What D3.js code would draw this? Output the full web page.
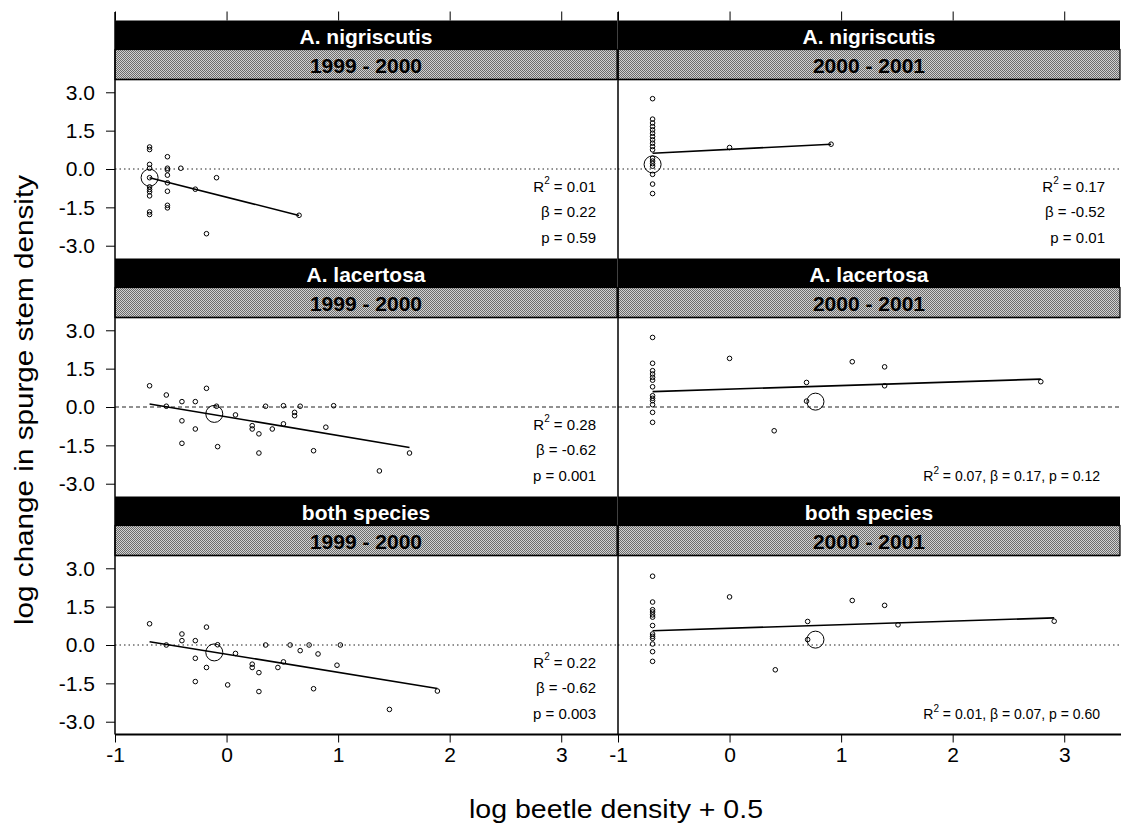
<!DOCTYPE html>
<html>
<head>
<meta charset="utf-8">
<script src="https://cdn.jsdelivr.net/npm/d3@7"></script>
<style>
  body { margin: 0; background: #fff; }
  svg { display: block; }
  text { font-family: "Liberation Sans", Arial, Helvetica, sans-serif; }
</style>
</head>
<body>
<svg id="chart" width="1121" height="823"></svg>
<script>
// ---- Panel labels ----
const speciesLabels = ["A. nigriscutis", "A. lacertosa", "both species"];
const periodLabels = ["1999 - 2000", "2000 - 2001"];
const xTickValues = [-1, 0, 1, 2, 3];
const yTickValues = [3.0, 1.5, 0.0, -1.5, -3.0];
const xDomain = [-1, 3.5];
const yDomain = [-3.5, 3.5];

// ---- A. nigriscutis, 1999-2000 ----
const nig9900X = [-0.69, -0.69, -0.69, -0.69, -0.69, -0.69, -0.69, -0.69, -0.69, -0.69, -0.69,
                  -0.53, -0.53, -0.53, -0.53, -0.53, -0.53, -0.53, -0.53,
                  -0.41, -0.28, -0.18, -0.09, 0.65];
const nig9900Y = [0.86, 0.76, 0.18, 0.03, -0.34, -0.70, -0.80, -0.89, -1.05, -1.68, -1.78,
                  0.48, 0.03, -0.04, -0.24, -0.54, -0.87, -1.42, -1.52,
                  0.03, -0.79, -2.53, -0.34, -1.81];

// ---- A. nigriscutis, 2000-2001 ----
const nig0001X = [-0.69, -0.69, -0.69, -0.69, -0.69, -0.69, -0.69, -0.69, -0.69, -0.69, -0.69,
                  -0.69, -0.69, -0.69, -0.69, -0.69, -0.69, -0.69, 0.00, 0.91];
const nig0001Y = [2.75, 1.95, 1.80, 1.66, 1.53, 1.40, 1.27, 1.14, 1.01, 0.88, 0.75,
                  0.42, 0.31, 0.21, 0.11, -0.21, -0.59, -0.96, 0.84, 0.97];

// ---- A. lacertosa, 1999-2000 ----
const lac9900X = [-0.69, -0.54, -0.54, -0.40, -0.28, -0.18, -0.09, -0.40, -0.28, -0.40, -0.08,
                  0.08, 0.23, 0.23, 0.29, 0.29, 0.35, 0.41, 0.51, 0.51, 0.61, 0.61, 0.66,
                  0.89, 0.78, 0.96, 1.37, 1.64];
const lac9900Y = [0.83, 0.47, 0.03, 0.21, 0.21, 0.73, 0.03, -0.54, -0.86, -1.42, -1.55,
                  -0.31, -0.73, -0.86, -1.05, -1.80, 0.03, -0.86, 0.05, -0.66, -0.21, -0.34, 0.03,
                  -0.79, -1.71, 0.05, -2.50, -1.80];

// ---- A. lacertosa, 2000-2001 ----
const lac0001X = [-0.69, -0.69, -0.69, -0.69, -0.69, -0.69, -0.69, -0.69, -0.69, -0.69, -0.69, -0.69, -0.69,
                  0.00, 0.40, 0.69, 0.69, 1.10, 1.39, 1.39, 2.79];
const lac0001Y = [2.72, 1.71, 1.42, 1.29, 1.16, 1.05, 0.79, 0.44, 0.34, 0.25, 0.09, -0.21, -0.60,
                  1.90, -0.93, 0.96, 0.23, 1.77, 1.57, 0.83, 0.99];

// ---- Both species, 1999-2000 ----
const both9900X = [-0.69, -0.54, -0.40, -0.40, -0.28, -0.18, -0.08, -0.28, -0.18, -0.28, 0.01,
                   0.08, 0.23, 0.23, 0.29, 0.29, 0.35, 0.46, 0.51, 0.57, 0.66, 0.74, 0.82,
                   0.78, 0.99, 1.02, 1.46, 1.89];
const both9900Y = [0.83, 0.00, 0.43, 0.17, 0.17, 0.70, 0.01, -0.52, -0.88, -1.43, -1.56,
                   -0.33, -0.75, -0.88, -1.08, -1.82, 0.00, -0.88, -0.66, 0.00, -0.22, 0.00, -0.35,
                   -1.71, -0.79, 0.00, -2.52, -1.80];

// ---- Both species, 2000-2001 ----
const both0001X = [-0.69, -0.69, -0.69, -0.69, -0.69, -0.69, -0.69, -0.69, -0.69, -0.69, -0.69, -0.69, -0.69,
                   0.00, 0.41, 0.70, 0.70, 1.10, 1.39, 1.51, 2.91];
const both0001Y = [2.69, 1.68, 1.38, 1.29, 1.18, 1.09, 0.76, 0.43, 0.34, 0.26, 0.04, -0.26, -0.64,
                   1.88, -0.97, 0.92, 0.21, 1.74, 1.55, 0.79, 0.93];

// ---- Group means (large circles), fitted lines and statistics, in panel order ----
const meanX = [-0.69, -0.69, -0.11, 0.77, -0.11, 0.77];
const meanY = [-0.34, 0.18, -0.27, 0.21, -0.29, 0.21];
const fitIntercept = [-1.10, 0.77, -0.384, 0.697, -0.359, 0.656];
const fitSlope = [-1.10, 0.219, -0.730, 0.141, -0.709, 0.139];
const statR2 = ["0.01", "0.17", "0.28", "0.07", "0.22", "0.01"];
const statBeta = ["0.22", "-0.52", "-0.62", "0.17", "-0.62", "0.07"];
const statP = ["0.59", "0.01", "0.001", "0.12", "0.003", "0.60"];
const statInline = [false, false, false, true, false, true];
const zeroLineDash = ["1.5,3", "1.5,3", "4,3", "4,3", "1.5,3", "1.5,3"];

const panelX = [nig9900X, nig0001X, lac9900X, lac0001X, both9900X, both0001X];
const panelY = [nig9900Y, nig0001Y, lac9900Y, lac0001Y, both9900Y, both0001Y];

// ---- Layout ----
const colLeft = [115, 618];
const panelW = 502;
const rowTop0 = 20.5, rowH = 238, blackH = 29, grayH = 30, plotH = 179;
const bottomY = rowTop0 + 3 * rowH;
const FONT = "'Liberation Sans', Arial, sans-serif";

const svg = d3.select("#chart");
const defs = svg.append("defs");
const pat = defs.append("pattern").attr("id", "halftone")
  .attr("width", 2).attr("height", 2).attr("patternUnits", "userSpaceOnUse");
pat.append("rect").attr("width", 2).attr("height", 2).attr("fill", "#d2d2d2");
pat.append("rect").attr("width", 1).attr("height", 1).attr("fill", "#6c6c6c");
pat.append("rect").attr("x", 1).attr("y", 1).attr("width", 1).attr("height", 1).attr("fill", "#6c6c6c");

const xScales = colLeft.map(l => d3.scaleLinear().domain(xDomain).range([l, l + panelW]));

for (let r = 0; r < 3; r++) {
  for (let c = 0; c < 2; c++) {
    const i = r * 2 + c;
    const top = rowTop0 + r * rowH;
    const left = colLeft[c];
    const plotTop = top + blackH + grayH;
    const x = xScales[c];
    const y = d3.scaleLinear().domain(yDomain).range([plotTop + plotH, plotTop]);
    const g = svg.append("g");

    // strips
    g.append("rect").attr("x", left).attr("y", top).attr("width", panelW).attr("height", blackH)
      .attr("fill", "#000");
    g.append("rect").attr("x", left).attr("y", top + blackH).attr("width", panelW).attr("height", grayH)
      .attr("fill", "url(#halftone)").attr("stroke", "#000").attr("stroke-width", 1.2);
    g.append("text").attr("x", left + panelW / 2).attr("y", top + blackH / 2 + 1)
      .attr("text-anchor", "middle").attr("dominant-baseline", "central")
      .attr("fill", "#fff").attr("font-weight", "bold").attr("font-size", 21)
      .text(speciesLabels[r]);
    g.append("text").attr("x", left + panelW / 2).attr("y", top + blackH + grayH / 2 + 1)
      .attr("text-anchor", "middle").attr("dominant-baseline", "central")
      .attr("fill", "#000").attr("font-weight", "bold").attr("font-size", 21)
      .text(periodLabels[c]);

    // zero reference line
    g.append("line").attr("x1", left).attr("x2", left + panelW)
      .attr("y1", y(0)).attr("y2", y(0))
      .attr("stroke", "#222").attr("stroke-width", 1)
      .attr("stroke-dasharray", zeroLineDash[i]);

    // fitted line over the observed x range
    const xs = panelX[i], ys = panelY[i];
    const [xmin, xmax] = d3.extent(xs);
    g.append("line")
      .attr("x1", x(xmin)).attr("y1", y(fitIntercept[i] + fitSlope[i] * xmin))
      .attr("x2", x(xmax)).attr("y2", y(fitIntercept[i] + fitSlope[i] * xmax))
      .attr("stroke", "#000").attr("stroke-width", 1.6);

    // observations
    g.selectAll("circle.obs").data(d3.range(xs.length)).join("circle")
      .attr("class", "obs")
      .attr("cx", k => x(xs[k])).attr("cy", k => y(ys[k]))
      .attr("r", 2.3).attr("fill", "none").attr("stroke", "#000").attr("stroke-width", 1);

    // mean
    g.append("circle").attr("cx", x(meanX[i])).attr("cy", y(meanY[i]))
      .attr("r", 8.5).attr("fill", "none").attr("stroke", "#000").attr("stroke-width", 1);

    // statistics
    if (statInline[i]) {
      const t = g.append("text").attr("x", left + panelW - 20).attr("y", plotTop + 158)
        .attr("text-anchor", "end").attr("dominant-baseline", "central").attr("font-size", 14);
      t.append("tspan").text("R");
      t.append("tspan").attr("dy", -6).attr("font-size", 10).text("2");
      t.append("tspan").attr("dy", 6).text(` = ${statR2[i]}, \u03B2 = ${statBeta[i]}, p = ${statP[i]}`);
    } else {
      const sx = c === 0 ? left + panelW - 21 : left + panelW - 15;
      const t1 = g.append("text").attr("x", sx).attr("y", plotTop + 106)
        .attr("text-anchor", "end").attr("dominant-baseline", "central").attr("font-size", 15);
      t1.append("tspan").text("R");
      t1.append("tspan").attr("dy", -6).attr("font-size", 10).text("2");
      t1.append("tspan").attr("dy", 6).text(` = ${statR2[i]}`);
      g.append("text").attr("x", sx).attr("y", plotTop + 132)
        .attr("text-anchor", "end").attr("dominant-baseline", "central").attr("font-size", 15)
        .text(`\u03B2 = ${statBeta[i]}`);
      g.append("text").attr("x", sx).attr("y", plotTop + 158)
        .attr("text-anchor", "end").attr("dominant-baseline", "central").attr("font-size", 15)
        .text(`p = ${statP[i]}`);
    }

    // horizontal border at top of plot area
    g.append("line").attr("x1", left).attr("x2", left + panelW)
      .attr("y1", plotTop).attr("y2", plotTop).attr("stroke", "#000").attr("stroke-width", 1.5);

    // left y axis
    if (c === 0) {
      const yAxis = d3.axisLeft(y).tickValues(yTickValues).tickSize(9).tickPadding(11)
        .tickFormat(d => d.toFixed(1));
      const ga = svg.append("g").attr("transform", `translate(${left},0)`).call(yAxis);
      ga.select(".domain").remove();
      ga.selectAll("line").attr("stroke", "#000");
      ga.selectAll("text").attr("font-size", 21).attr("fill", "#000").attr("font-family", FONT);
    }
  }
}

// column frame lines
colLeft.forEach(l => {
  svg.append("line").attr("x1", l).attr("x2", l).attr("y1", 12).attr("y2", bottomY)
    .attr("stroke", "#000").attr("stroke-width", 1.5);
});
svg.append("line").attr("x1", colLeft[0]).attr("x2", 1121).attr("y1", bottomY).attr("y2", bottomY)
  .attr("stroke", "#000").attr("stroke-width", 2);

// bottom and top x axes
xScales.forEach(x => {
  const ax = d3.axisBottom(x).tickValues(xTickValues).tickSize(8).tickPadding(5)
    .tickFormat(d => String(d));
  const gb = svg.append("g").attr("transform", `translate(0,${bottomY})`).call(ax);
  gb.select(".domain").remove();
  gb.selectAll("line").attr("stroke", "#000");
  gb.selectAll("text").attr("font-size", 21).attr("fill", "#000").attr("font-family", FONT);

  const at = d3.axisTop(x).tickValues(xTickValues).tickSize(9).tickFormat("");
  const gt = svg.append("g").attr("transform", `translate(0,${rowTop0})`).call(at);
  gt.select(".domain").remove();
  gt.selectAll("line").attr("stroke", "#000");
});

// axis titles
svg.append("text")
  .attr("x", 616).attr("y", 818)
  .attr("text-anchor", "middle").attr("font-size", 26)
  .attr("textLength", 294).attr("lengthAdjust", "spacingAndGlyphs")
  .text("log beetle density + 0.5");

svg.append("text")
  .attr("transform", "translate(33,400) rotate(-90)")
  .attr("text-anchor", "middle").attr("font-size", 26)
  .attr("textLength", 450).attr("lengthAdjust", "spacingAndGlyphs")
  .text("log change in spurge stem density");
</script>
</body>
</html>
